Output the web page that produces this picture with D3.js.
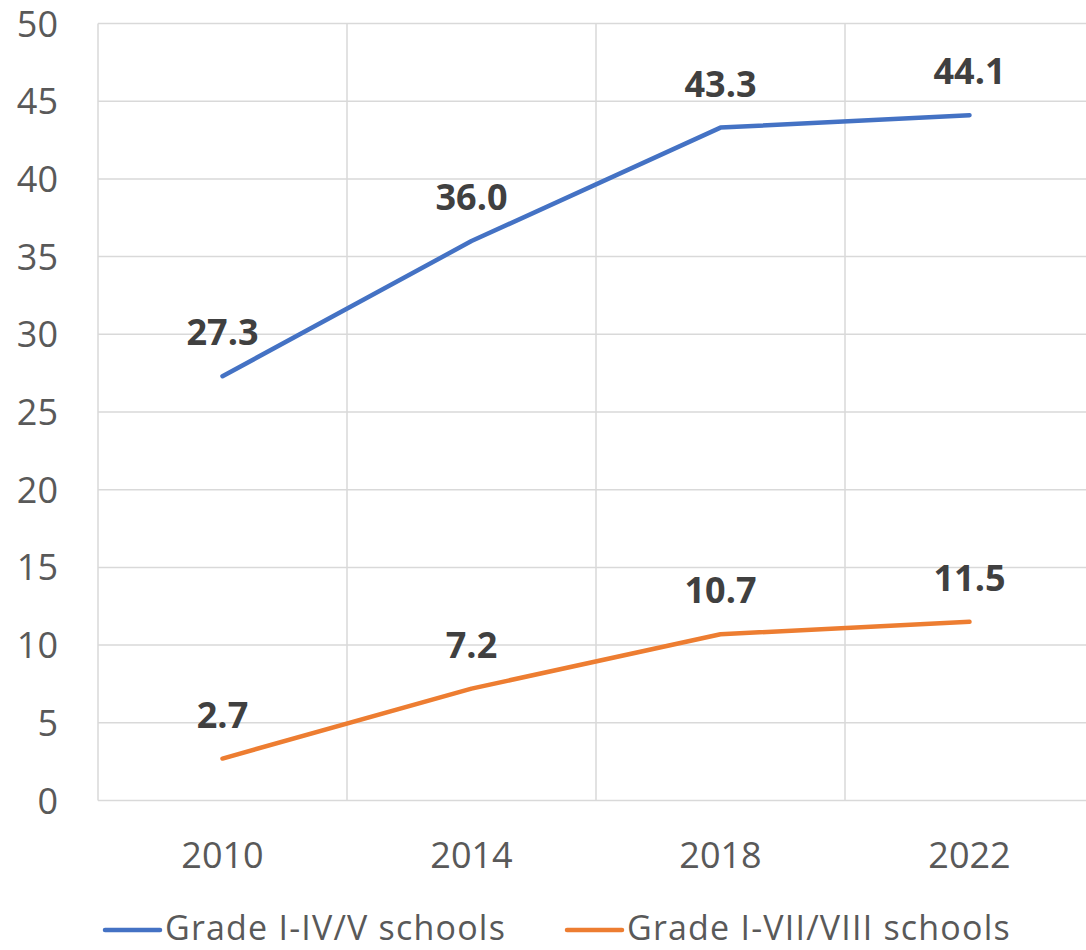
<!DOCTYPE html>
<html>
<head>
<meta charset="utf-8">
<script src="https://cdn.jsdelivr.net/npm/d3@7"></script>
<style>
  body { margin: 0; background: #fff; }
  svg text { font-family: "Open Sans", "Noto Sans", sans-serif; }
</style>
</head>
<body>
<div id="chart"></div>
<script>
const years = ["2010", "2014", "2018", "2022"];
const gradeIV = [27.3, 36.0, 43.3, 44.1];
const gradeVII = [2.7, 7.2, 10.7, 11.5];
const yTicks = [0, 5, 10, 15, 20, 25, 30, 35, 40, 45, 50];
const seriesNames = ["Grade I-IV/V schools", "Grade I-VII/VIII schools"];
const colors = ["#4472C4", "#ED7D31"];

const width = 1086;
const height = 950;
const margin = { left: 98, top: 23.5, right: -8, bottom: 149.5 };

const svg = d3.select("#chart").append("svg").attr("width", width).attr("height", height);

const x = d3.scaleBand().domain(years).range([margin.left, width - margin.right]);
const y = d3.scaleLinear().domain([0, 50]).range([height - margin.bottom, margin.top]);

// grid
svg.append("g")
  .selectAll("line.h")
  .data(yTicks)
  .join("line")
  .attr("x1", margin.left)
  .attr("x2", width - margin.right)
  .attr("y1", (d) => y(d))
  .attr("y2", (d) => y(d))
  .attr("stroke", "#d9d9d9")
  .attr("stroke-width", 1.5);

svg.append("g")
  .selectAll("line.v")
  .data(years)
  .join("line")
  .attr("x1", (d) => x(d))
  .attr("x2", (d) => x(d))
  .attr("y1", y(0))
  .attr("y2", y(50))
  .attr("stroke", "#d9d9d9")
  .attr("stroke-width", 1.5);

// y tick labels
svg.append("g")
  .selectAll("text")
  .data(yTicks)
  .join("text")
  .attr("x", 58)
  .attr("y", (d) => y(d) + 13)
  .attr("text-anchor", "end")
  .attr("fill", "#595959")
  .attr("font-size", 36)
  .text((d) => d);

// x tick labels
svg.append("g")
  .selectAll("text")
  .data(years)
  .join("text")
  .attr("x", (d) => x(d) + x.bandwidth() / 2)
  .attr("y", 868)
  .attr("text-anchor", "middle")
  .attr("fill", "#595959")
  .attr("font-size", 36)
  .text((d) => d);

const line = d3.line()
  .x((d, i) => x(years[i]) + x.bandwidth() / 2)
  .y((d) => y(d));

[gradeIV, gradeVII].forEach((vals, s) => {
  svg.append("path")
    .datum(vals)
    .attr("d", line)
    .attr("fill", "none")
    .attr("stroke", colors[s])
    .attr("stroke-width", 4.5)
    .attr("stroke-linecap", "round")
    .attr("stroke-linejoin", "round");

  svg.append("g")
    .selectAll("text")
    .data(vals)
    .join("text")
    .attr("x", (d, i) => x(years[i]) + x.bandwidth() / 2)
    .attr("y", (d) => y(d) - 31)
    .attr("text-anchor", "middle")
    .attr("fill", "#404040")
    .attr("font-size", 36)
    .attr("font-weight", "bold")
    .text((d) => d.toFixed(1));
});

// legend
const legendX = [105, 567];
seriesNames.forEach((name, s) => {
  const g = svg.append("g").attr("transform", `translate(${legendX[s]},930)`);
  g.append("line")
    .attr("x1", 0).attr("x2", 55)
    .attr("stroke", colors[s])
    .attr("stroke-width", 4.5)
    .attr("stroke-linecap", "round");
  g.append("text")
    .attr("x", 60)
    .attr("y", 10)
    .attr("fill", "#595959")
    .attr("font-size", 34)
    .attr("letter-spacing", 1.2)
    .text(name);
});
</script>
</body>
</html>
